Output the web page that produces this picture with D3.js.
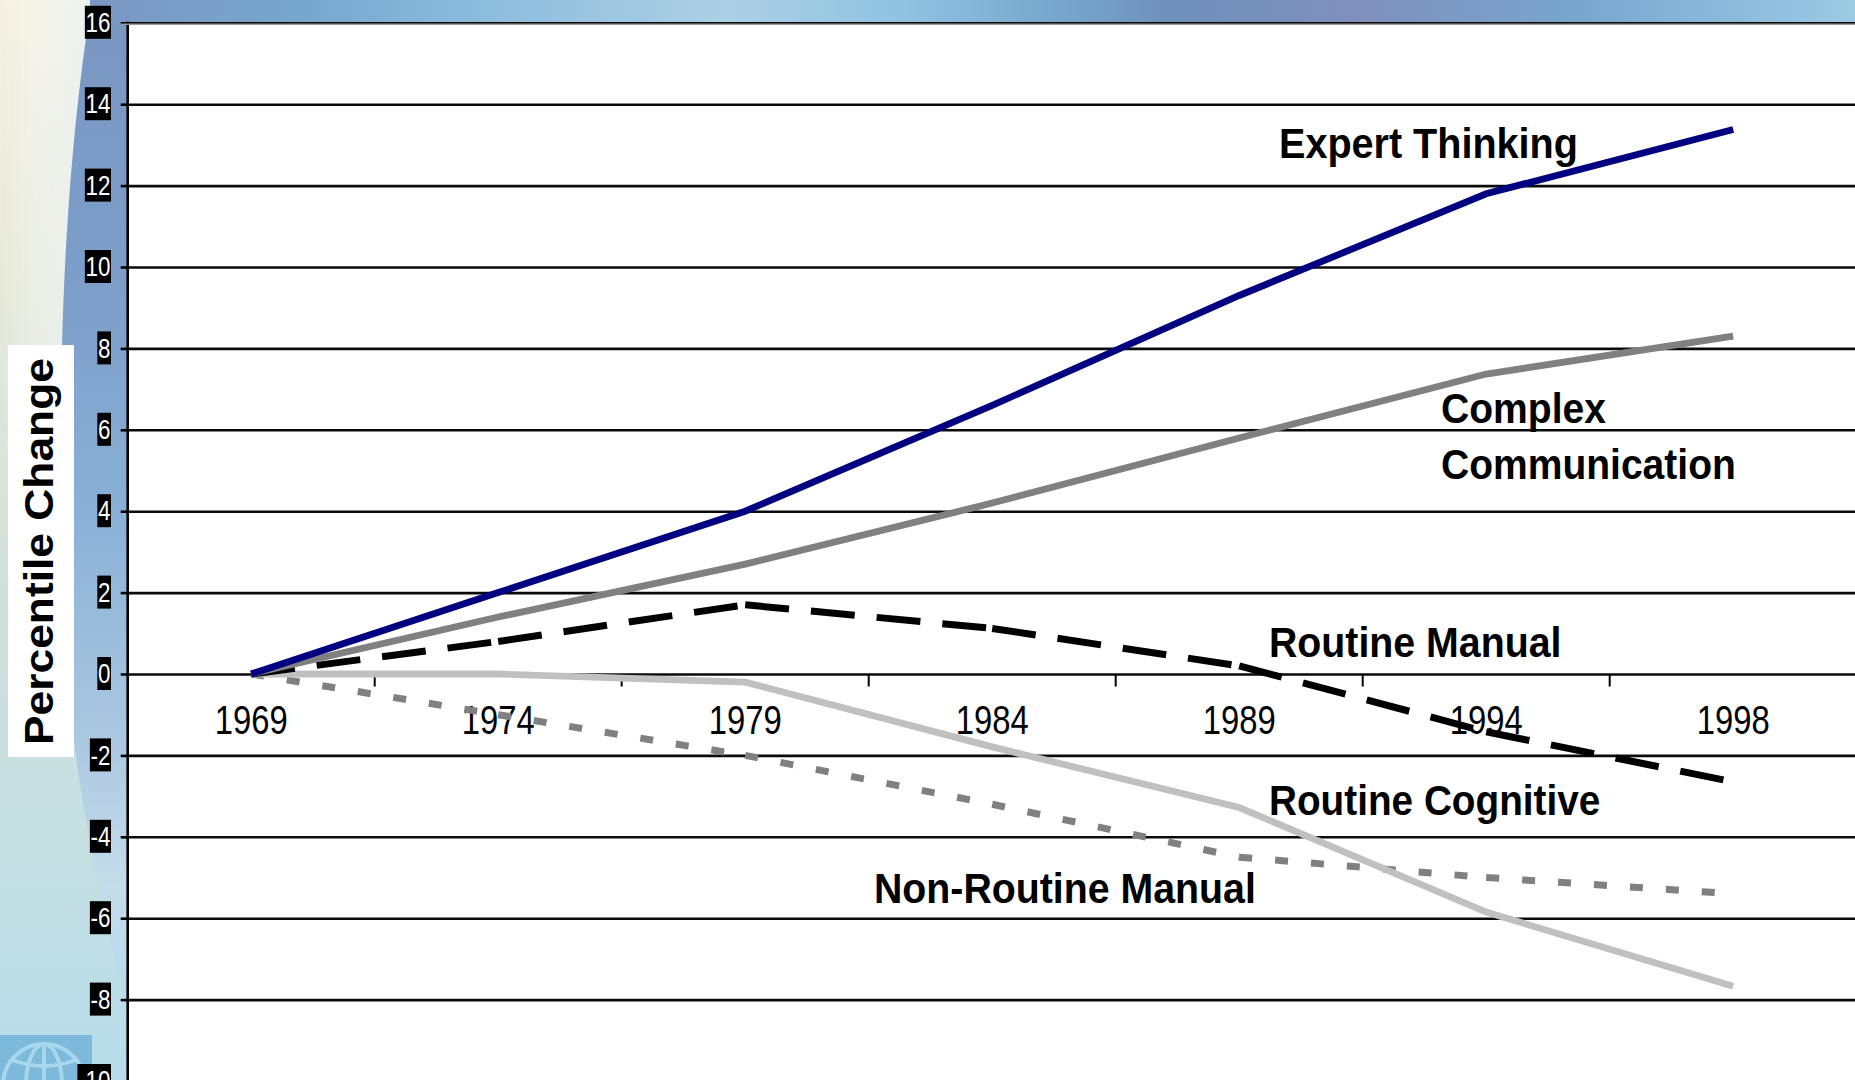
<!DOCTYPE html>
<html><head><meta charset="utf-8">
<script src="https://cdn.jsdelivr.net/npm/d3@7"></script>
<style>html,body{margin:0;padding:0;background:#fff;overflow:hidden}svg{display:block}text{font-family:"Liberation Sans",Arial,sans-serif}</style>
</head><body>
<svg id="c" width="1855" height="1080"></svg>
<script>
const years = ["1969","1974","1979","1984","1989","1994","1998"];
const expertThinking = [0, 2.0, 4.0, 6.6, 9.3, 11.8, 13.38];
const complexCommunication = [0, 1.4, 2.7, 4.2, 5.8, 7.37, 8.3];
const routineManual = [0, 0.8, 1.7, 1.12, 0.2, -1.42, -2.65];
const routineCognitive = [0, 0, -0.2, -1.79, -3.28, -5.85, -7.67];
const nonRoutineManual = [0, -1.0, -2.0, -3.2, -4.5, -5.0, -5.4];
const yTicks = [16,14,12,10,8,6,4,2,0,-2,-4,-6,-8,-10];
const seriesNames = ["Non-Routine Manual","Routine Cognitive","Routine Manual","Complex Communication","Expert Thinking"];
const seriesValues = [nonRoutineManual, routineCognitive, routineManual, complexCommunication, expertThinking];
const seriesColors = ["#808080","#c0c0c0","#000000","#808080","#000080"];
const seriesDash = ["13 23", null, "44 22", null, null];
const labelLines = [["Expert Thinking"],["Complex"],["Communication"],["Routine Manual"],["Routine Cognitive"],["Non-Routine Manual"]];

const svg = d3.select("#c");
const defs = svg.append("defs");
function grad(id, stops, x2, y2){
  const g = defs.append("linearGradient").attr("id",id).attr("x1",0).attr("y1",0).attr("x2",x2).attr("y2",y2);
  stops.forEach(s=>{
    const st = g.append("stop").attr("offset",s[0]).attr("stop-color",s[1]);
    if(s[2]!==undefined) st.attr("stop-opacity",s[2]);
  });
}
grad("pale",[[0,"#f5f1e2"],[.28,"#e6e9da"],[.55,"#cfe0da"],[.78,"#c6e0e2"],[1,"#b6dcea"]],0,1);
grad("sheen",[[0,"#ffffff",0],[1,"#e4f0f2",.8]],1,0);
grad("fade",[[0,"#ffffff"],[.6,"#ffffff"],[1,"#000000"]],0,1);
grad("blue",[[0,"#7a96c3"],[.3,"#7d9fca"],[.5,"#88b0d6"],[.72,"#a9c6e0"],[.88,"#c5dcea"],[1,"#b5dbeb"]],0,1);
grad("bar",[[0,"#7b97c4"],[.12,"#77a6cf"],[.22,"#8cbcdc"],[.36,"#adcfe5"],[.46,"#8fc3e1"],[.54,"#78a9ce"],[.61,"#7091bd"],[.72,"#7f90bb"],[.84,"#78a5cf"],[1,"#9ccae3"]],1,0);
defs.append("mask").attr("id","sheenMask").attr("maskUnits","userSpaceOnUse")
  .attr("x",0).attr("y",0).attr("width",95).attr("height",620)
  .append("rect").attr("width",95).attr("height",620).attr("fill","url(#fade)");

// background
svg.append("rect").attr("width",1855).attr("height",1080).attr("fill","url(#pale)");
svg.append("rect").attr("width",95).attr("height",620).attr("fill","url(#sheen)").attr("mask","url(#sheenMask)");
svg.append("path").attr("fill","url(#blue)")
  .attr("d","M92,0 C80,70 66,190 62,345 C58,500 62,650 76,757 C86,830 108,940 128,1010 L128,0 Z");
svg.append("rect").attr("x",90).attr("y",0).attr("width",1765).attr("height",24).attr("fill","url(#bar)");

// logo
const logo = svg.append("g");
logo.append("rect").attr("x",0).attr("y",1035).attr("width",92).attr("height",45).attr("fill","#7db9da");
const globe = logo.append("g").attr("fill","none").attr("stroke","#a8d6ec").attr("stroke-width",4);
globe.append("circle").attr("cx",44).attr("cy",1085).attr("r",41);
globe.append("ellipse").attr("cx",44).attr("cy",1085).attr("rx",18).attr("ry",41);
globe.append("line").attr("x1",44).attr("x2",44).attr("y1",1044).attr("y2",1080);
globe.append("path").attr("d","M12,1060 Q44,1072 76,1060");
globe.append("path").attr("d","M3,1083 L85,1083");

// plot
const left = 127.7, stepX = 247, y0 = 674, unit = 40.7;
const x = d3.scaleBand().domain(years).range([left, left + stepX*years.length]);
const cx = d => x(d) + x.bandwidth()/2;
const y = d3.scaleLinear().domain([-10,16]).range([y0+10*unit, y0-16*unit]);

svg.append("rect").attr("x",left).attr("y",y(16)).attr("width",1855-left).attr("height",1080-y(16)).attr("fill","#fff");

// horizontal gridlines + tick marks
const axisY = svg.append("g").attr("transform",`translate(${left},0)`)
  .call(d3.axisLeft(y).tickValues(yTicks).tickSize(7).tickPadding(0).tickFormat(d=>String(d)));
axisY.select(".domain").remove();
axisY.selectAll(".tick line").attr("stroke","#000").attr("stroke-width",2.6);
axisY.selectAll(".tick").append("line").attr("x1",0).attr("x2",1855-left).attr("stroke","#0a0a0a").attr("stroke-width",2.6);

axisY.selectAll(".tick text").each(function(d){
  const t = d3.select(this);
  t.attr("fill","#fff").attr("font-size",27).attr("font-family","Liberation Sans")
   .attr("text-anchor","end").attr("dy",null).attr("x",null).attr("dominant-baseline",null);
  const k = 0.83;
  const w = this.getComputedTextLength()*k;
  t.attr("transform",`translate(-17.2,8.6) scale(${k},1)`).attr("y",0);
  const parent = d3.select(this.parentNode);
  parent.insert("rect","text").attr("x",-16.7-w-1.2).attr("y",-17.5).attr("width",w+1.2).attr("height",33).attr("fill","#000");
});

// vertical axis
svg.append("line").attr("x1",left).attr("x2",left).attr("y1",y(16)-1).attr("y2",1080).attr("stroke","#000").attr("stroke-width",2.6);
svg.append("line").attr("x1",left-7).attr("x2",1855).attr("y1",y(16)+1.4).attr("y2",y(16)+1.4).attr("stroke","#999").attr("stroke-width",1.4);

// x ticks
const axisX = svg.append("g").attr("transform",`translate(0,${y(0)})`);
axisX.selectAll("line").data(years.slice(1)).join("line")
  .attr("x1",d=>x(d)).attr("x2",d=>x(d)).attr("y1",0).attr("y2",12.5).attr("stroke","#000").attr("stroke-width",2);

// helper: factor that condenses a text to a target width
function fitText(sel, width){
  const n = sel.node(), len = n.getComputedTextLength();
  return width/len;
}
// year labels
const yearLabels = svg.append("g");
years.forEach(d=>{
  const t = yearLabels.append("text").text(d).attr("font-size",40).attr("text-anchor","middle").attr("fill","#000");
  const k = fitText(t,73);
  t.attr("transform",`translate(${cx(d)},734) scale(${k},1)`);
});

// lines: every segment starts its own dash pattern, as in the original
const line = d3.line().x(p=>cx(p.year)).y(p=>y(p.v));
seriesValues.forEach((vals,i)=>{
  const pts = vals.map((v,j)=>({year:years[j],v}));
  const g = svg.append("g").attr("class","series").attr("data-name",seriesNames[i]);
  if(seriesDash[i]){
    g.selectAll("path").data(d3.pairs(pts)).join("path")
      .attr("d",d=>line(d)).attr("fill","none").attr("stroke",seriesColors[i]).attr("stroke-width",7)
      .attr("stroke-dasharray",seriesDash[i]);
  } else {
    g.append("path").attr("d",line(pts)).attr("fill","none").attr("stroke",seriesColors[i]).attr("stroke-width",6.8).attr("stroke-linejoin","miter");
  }
});

// direct labels
const labelX = [1279,1441,1441,1269,1269,874];
const labelW = [299,165,295,292.5,331.5,382];
const labelB = [158,423,479,656.7,815,903];
const labels = svg.append("g");
labelLines.forEach((l,i)=>{
  const t = labels.append("text").text(l[0]).attr("font-size",43).attr("font-weight",700).attr("fill","#000");
  const k = fitText(t,labelW[i]);
  t.attr("transform",`translate(${labelX[i]},${labelB[i]}) scale(${k},1)`);
});

// y title
svg.append("rect").attr("x",8).attr("y",345).attr("width",66).attr("height",412).attr("fill","#fff");
const yt = svg.append("text").text("Percentile Change").attr("font-size",41).attr("font-weight",700).attr("fill","#000");
const ky = fitText(yt,387);
yt.attr("transform",`translate(53,745) rotate(-90) scale(${ky},1)`);
</script>
</body></html>
